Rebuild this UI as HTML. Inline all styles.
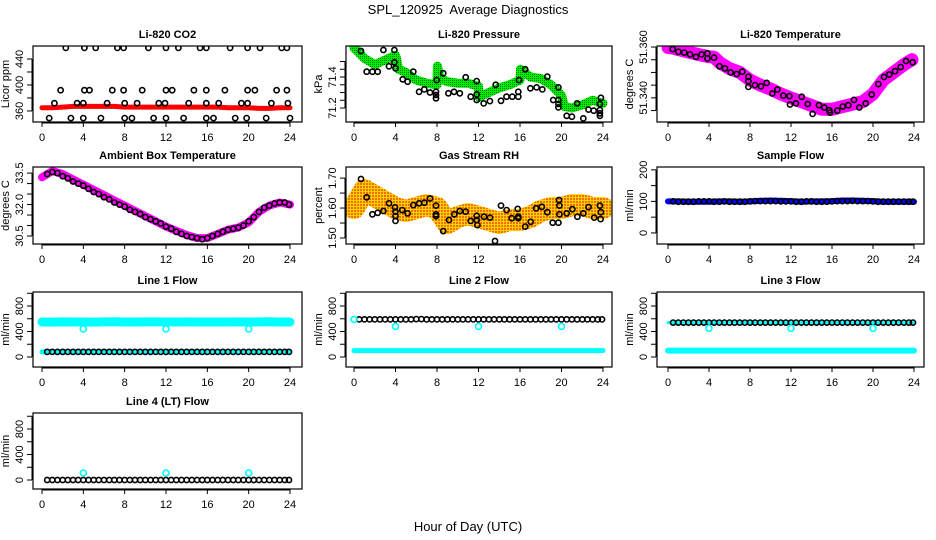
<!DOCTYPE html>
<html><head><meta charset="utf-8"><style>
html,body{margin:0;padding:0;background:#fff}
svg{display:block;font-family:"Liberation Sans",Arial,sans-serif}
</style></head><body>
<svg id="chart" width="936" height="540" viewBox="0 0 936 540" xmlns="http://www.w3.org/2000/svg">
<defs>
<pattern id="orangePat" width="3" height="3" patternUnits="userSpaceOnUse"><rect width="3" height="3" fill="#ffd000"/><rect width="2" height="2" fill="#f07000"/></pattern>
<pattern id="greenPat" width="2" height="2" patternUnits="userSpaceOnUse"><rect width="2" height="2" fill="#00ee00"/><rect width="1" height="1" fill="#007700"/></pattern>
</defs>
<text x="468" y="14" font-size="13" text-anchor="middle" xml:space="preserve" style="white-space:pre">SPL_120925  Average Diagnostics</text>
<text x="468" y="531" font-size="13" text-anchor="middle">Hour of Day (UTC)</text>
</svg>
<script>
// ---------- data ----------
const xTicks=[0,4,8,12,16,20,24];
const halfHours=[0.5,1,1.5,2,2.5,3,3.5,4,4.5,5,5.5,6,6.5,7,7.5,8,8.5,9,9.5,10,10.5,11,11.5,12,12.5,13,13.5,14,14.5,15,15.5,16,16.5,17,17.5,18,18.5,19,19.5,20,20.5,21,21.5,22,22.5,23,23.5,23.9];
const hourly=[0,1,2,3,4,5,6,7,8,9,10,11,12,13,14,15,16,17,18,19,20,21,22,23,24];

const co2Band=[365,365,366,367,367,367,367,367,366,366,366,366,366,366,366,366,366,366,365,365,365,364,364,365,365];
const co2PtHours=[2.3,4.1,5.2,7.3,7.9,10.3,12.0,13.2,15.3,15.9,18.2,19.9,21.1,23.2,23.7,
1.8,4.1,4.6,6.8,7.9,9.7,12.0,12.6,14.7,15.9,17.7,19.9,20.6,22.7,23.7,
1.2,3.4,4.0,6.3,8.0,9.2,11.3,11.9,14.2,15.9,17.1,19.3,19.9,22.2,23.8,
0.7,2.8,4.0,5.7,8.0,8.7,10.8,12.0,13.7,15.9,16.6,18.7,19.8,21.7,24.0];
const co2PtVals=[457,457,457,457,457,457,457,457,457,457,457,457,457,457,457,
392,392,392,392,392,392,392,392,392,392,392,392,392,392,392,
372,372,372,372,372,372,372,372,372,372,372,372,372,372,372,
349,349,349,349,349,349,349,349,349,349,349,349,349,349,349];

const presBandHours=[0,1,2,3,4,4.1,4.3,5,6,7,8,8.05,8.3,9,10,11,12,12.05,13,14,15,16,16.05,17,18,19,20,20.3,21,22,23,24];
const presBandVals=[71.59,71.52,71.48,71.51,71.54,71.52,71.45,71.43,71.38,71.36,71.35,71.47,71.39,71.37,71.36,71.36,71.34,71.27,71.30,71.33,71.35,71.38,71.45,71.40,71.39,71.35,71.28,71.21,71.2,71.22,71.25,71.23];
const presPtHours=[0.67,1.22,1.77,2.28,2.83,3.37,3.89,3.89,4.0,4.69,5.17,5.72,6.27,6.78,7.33,7.9,7.9,7.9,7.97,8.6,9.1,9.64,10.2,10.77,11.25,11.83,11.83,11.83,12.5,13.1,13.66,14.17,14.7,15.26,15.84,15.84,15.9,16.5,17.0,17.6,18.15,18.63,19.2,19.7,19.7,19.7,19.7,20.5,21.0,21.5,22.1,22.6,23.1,23.7,23.7,23.7,23.7,23.8];
const presPtVals=[71.568,71.434,71.434,71.434,71.574,71.469,71.574,71.495,71.456,71.385,71.37,71.434,71.305,71.32,71.30,71.305,71.284,71.263,71.38,71.424,71.295,71.305,71.295,71.398,71.273,71.374,71.288,71.252,71.23,71.245,71.35,71.247,71.273,71.273,71.305,71.273,71.38,71.45,71.327,71.333,71.32,71.402,71.252,71.333,71.252,71.226,71.204,71.15,71.144,71.23,71.133,71.19,71.183,71.187,71.226,71.166,71.15,71.266];

const tempBandHours=[0,0.5,1,2,3,4,4.5,5,6,7,8,9,10,11,12,13,14,15,16,17,18,19,20,21,22,23,23.8];
const tempBandVals=[51.3598,51.3596,51.3590,51.3580,51.3570,51.3562,51.3560,51.3540,51.3515,51.3500,51.3470,51.3450,51.3435,51.3415,51.3400,51.3385,51.3370,51.3355,51.3355,51.3365,51.3375,51.3385,51.3415,51.3470,51.3500,51.3530,51.3550];
const tempPtHours=[0.46,1.01,1.59,2.15,2.73,3.28,3.84,3.84,4.49,5.01,5.56,6.11,6.7,7.25,7.84,7.84,7.84,8.49,9.07,9.63,10.18,10.67,11.25,11.84,11.9,12.49,13.04,13.63,14.11,14.73,15.25,15.74,15.8,16.52,17.04,17.59,18.15,18.66,19.29,19.87,20.52,21.07,21.59,22.15,22.7,23.22,23.87];
const tempPtVals=[51.3592,51.3581,51.3578,51.3571,51.3561,51.3571,51.3575,51.3555,51.3558,51.3524,51.3516,51.3500,51.3494,51.3503,51.3483,51.3466,51.3443,51.3450,51.3446,51.3459,51.3417,51.3433,51.3409,51.3407,51.3374,51.3378,51.3404,51.3376,51.3337,51.3371,51.3362,51.3351,51.3342,51.3350,51.3366,51.3371,51.3392,51.3362,51.3378,51.3413,51.3454,51.3482,51.3492,51.3505,51.3521,51.3545,51.3540];

const ambBand=[33.3,33.6,33.45,33.2,32.95,32.7,32.45,32.2,31.95,31.7,31.45,31.2,30.95,30.75,30.55,30.4,30.4,30.6,30.8,30.9,31.15,31.65,31.95,32.1,32.0];
const ambPts=[33.45,33.55,33.5,33.35,33.25,33.1,33.0,32.9,32.75,32.6,32.5,32.35,32.25,32.1,32.0,31.9,31.75,31.65,31.55,31.4,31.3,31.2,31.1,30.95,30.85,30.7,30.6,30.5,30.45,30.4,30.35,30.4,30.5,30.6,30.7,30.8,30.85,30.9,31.0,31.2,31.4,31.65,31.85,31.95,32.05,32.1,32.1,32.0];

const rhBand=[1.60,1.66,1.64,1.62,1.60,1.59,1.60,1.61,1.60,1.55,1.57,1.58,1.57,1.56,1.55,1.56,1.56,1.57,1.59,1.60,1.60,1.61,1.61,1.60,1.60];
const rhPtHours=[0.67,1.22,1.77,2.28,2.83,3.37,3.95,4.0,4.0,4.0,4.66,5.17,5.72,6.27,6.78,7.33,7.9,7.9,7.9,8.6,9.16,9.67,10.2,10.77,11.25,11.83,11.83,11.89,12.53,13.11,13.59,14.17,14.71,15.2,15.78,15.84,15.84,16.5,17.03,17.55,18.1,18.63,19.15,19.7,19.76,19.8,19.8,20.5,21.05,21.53,22.1,22.6,23.15,23.7,23.77,23.8];
const rhPtVals=[1.697,1.636,1.579,1.584,1.59,1.616,1.602,1.588,1.573,1.557,1.593,1.582,1.61,1.616,1.618,1.632,1.608,1.579,1.573,1.523,1.56,1.579,1.59,1.588,1.557,1.574,1.56,1.543,1.571,1.568,1.49,1.608,1.593,1.566,1.597,1.571,1.566,1.538,1.554,1.599,1.604,1.586,1.551,1.551,1.627,1.608,1.579,1.582,1.596,1.571,1.582,1.603,1.568,1.608,1.563,1.586];

const sampBand=[100,100,99,99,99,100,100,99,100,102,103,102,101,99,100,100,101,103,103,102,101,99,99,99,99];
const sampPts=[100,99,99,99,99,100,100,100,99,99,100,99,99,99,99,100,101,101,101,101,101,100,100,100,99,99,100,100,99,99,99,100,101,101,101,102,101,101,101,100,99,99,99,99,99,99,99,99];

const line1Upper=[549,548,550,549,549,548,550,552,549,549,550,550,549,549,550,549,549,549,549,550,549,551,552,549,549];
const line1Lower=[80,80,80,80,80,80,80,80,80,80,80,80,80,80,80,80,80,80,80,80,80,80,80,80,80];
const line1Pts=[80,80,80,80,80,80,80,80,80,80,80,80,80,80,80,80,80,80,80,80,80,80,80,80,80,80,80,80,80,80,80,80,80,80,80,80,80,80,80,80,80,80,80,80,80,80,80,80];
const line2Lower=[100,100,100,100,100,100,100,100,100,100,100,100,100,100,100,100,100,100,100,100,100,100,100,100,100];
const line2Pts=[590,590,590,590,590,590,590,590,590,590,590,595,595,590,590,590,590,590,590,590,590,590,590,590,590,590,590,590,590,590,590,590,590,590,590,590,590,590,590,590,590,590,590,590,590,590,590,590];
const line3Lower=[100,100,100,100,100,100,100,100,100,100,100,100,100,100,100,100,100,100,100,100,100,100,100,100,100];
const line3Upper=[540,540,540,540,540,540,545,545,540,540,540,540,540,540,540,540,540,540,540,540,540,540,545,540,540];
const line3Pts=[540,540,540,540,540,540,540,540,540,540,540,540,540,540,540,540,540,540,540,540,540,540,540,540,540,540,540,540,540,540,540,540,540,540,540,540,540,540,540,540,540,540,540,540,540,540,540,540];
const line4Pts=[0,0,0,0,0,0,0,0,0,0,0,0,0,0,0,0,0,0,0,0,0,0,0,0,0,0,0,0,0,0,0,0,0,0,0,0,0,0,0,0,0,0,0,0,0,0,0,0];
const dipHours=[4,12,20];
const line1Dips=[440,440,440];
const line2CyanHours=[0,4,12,20];
const line2Dips=[590,480,480,480];
const line3Dips=[450,450,450];
const line4Dips=[110,110,110];

// ---------- layout ----------
const NS="http://www.w3.org/2000/svg";
const svg=document.getElementById('chart');
const cols=[{bx0:33,bx1:302,x0:42,x24:290},{bx0:346,bx1:612,x0:354,x24:603},{bx0:657,bx1:924,x0:668,x24:914}];
const rows=[{by0:46,by1:122},{by0:167,by1:244},{by0:292,by1:367},{by0:413,by1:489}];

function mk(tag,attrs,parent){const e=document.createElementNS(NS,tag);for(const k in attrs)e.setAttribute(k,attrs[k]);parent.appendChild(e);return e;}

function panel(ci,ri,name,title,ylab,dom,yticks,ylabels,dec){
  const c=cols[ci],r=rows[ri];
  const g=mk('g',{},svg);
  
  
  const xs=h=>c.x0+(c.x24-c.x0)*h/24;
  const ys=v=>r.by1-(v-dom[0])/(dom[1]-dom[0])*(r.by1-r.by0);
  const t=mk('text',{x:(c.bx0+c.bx1)/2,y:r.by0-8,'font-size':11,'font-weight':'bold','text-anchor':'middle'},g);
  t.textContent=title;
  
  
  const xa=mk('g',{stroke:'#000','stroke-width':1},g);
  
  
  mk('line',{x1:xs(0),x2:xs(24),y1:r.by1+1,y2:r.by1+1},xa);
  xTicks.forEach(h=>{
    mk('line',{x1:xs(h),x2:xs(h),y1:r.by1,y2:r.by1+5},xa);
    const tl=mk('text',{x:xs(h),y:r.by1+19,'font-size':11,'text-anchor':'middle',stroke:'none'},xa);
    tl.textContent=h;
    
    
  });
  const ya=mk('g',{stroke:'#000','stroke-width':1},g);
  
  
  mk('line',{x1:c.bx0-1,x2:c.bx0-1,y1:ys(yticks[0]),y2:ys(yticks[yticks.length-1])},ya);
  yticks.forEach(v=>{mk('line',{x1:c.bx0-6,x2:c.bx0-1,y1:ys(v),y2:ys(v)},ya);});
  ylabels.forEach(v=>{
    const yy=ys(v);
    const tl=mk('text',{x:c.bx0-10,y:yy,'font-size':11,'text-anchor':'middle',stroke:'none',transform:`rotate(-90 ${c.bx0-10} ${yy})`},ya);
    tl.textContent=v.toFixed(dec||0);
    
    
  });
  const my=(r.by0+r.by1)/2;
  const yl=mk('text',{x:c.bx0-24,y:my,'font-size':11,'text-anchor':'middle',transform:`rotate(-90 ${c.bx0-24} ${my})`},g);
  yl.textContent=ylab;
  
  
  const cp='clip-'+name;
  const cl=mk('clipPath',{id:cp},g);
  mk('rect',{x:c.bx0,y:r.by0,width:c.bx1-c.bx0,height:r.by1-r.by0},cl);
  const pg=mk('g',{'clip-path':`url(#${cp})`},g);
  
  
  const box=mk('rect',{x:c.bx0,y:r.by0,width:c.bx1-c.bx0,height:r.by1-r.by0,fill:'none',stroke:'#000','stroke-width':1.2},g);
  
  
  return {xs,ys,pg};
}
function band(P,hours,vals,color,width,nm){
  const pts=hours.map((h,i)=>P.xs(h).toFixed(1)+','+P.ys(vals[i]).toFixed(1)).join(' ');
  const pl=mk('polyline',{points:pts,fill:'none',stroke:color,'stroke-width':width,'stroke-linejoin':'round','stroke-linecap':'round'},P.pg);
  
  
}
function points(P,hours,vals,color,nm,r){
  const g=mk('g',{fill:'none',stroke:color,'stroke-width':1.6},P.pg);
  
  
  hours.forEach((h,i)=>{
    const ci=mk('circle',{cx:P.xs(h).toFixed(1),cy:P.ys(vals[i]).toFixed(1),r:r||2.6},g);
    
    
  });
}

let P=panel(0,0,'co2','Li-820 CO2','Licor ppm',[343,460],[360,380,400,420,440],[360,400,440],0);
band(P,hourly,co2Band,'#ff0000',5,'co2-series');
points(P,co2PtHours,co2PtVals,'#000','co2-averages');
P=panel(1,0,'pressure','Li-820 Pressure','kPa',[71.11,71.6],[71.2,71.25,71.3,71.35,71.4,71.45,71.5],[71.2,71.4],1);
band(P,presBandHours,presBandVals,'url(#greenPat)',9,'pressure-series');
points(P,presPtHours,presPtVals,'#000','pressure-averages');
P=panel(2,0,'li820-temp','Li-820 Temperature','degrees C',[51.3305,51.3604],[51.335,51.34,51.345,51.35,51.355,51.36],[51.34,51.36],3);
band(P,tempBandHours,tempBandVals,'#ff00ff',13,'li820-temp-series');
points(P,tempPtHours,tempPtVals,'#000','li820-temp-averages');
P=panel(0,1,'ambient-temp','Ambient Box Temperature','degrees C',[30.12,33.79],[30.5,31,31.5,32,32.5,33,33.5],[30.5,32.0,33.5],1);
band(P,hourly,ambBand,'#ff00ff',8,'ambient-series');
points(P,halfHours,ambPts,'#000','ambient-averages');
P=panel(1,1,'rh','Gas Stream RH','percent',[1.48,1.737],[1.5,1.55,1.6,1.65,1.7],[1.50,1.60,1.70],2);
band(P,hourly,rhBand,'url(#orangePat)',22,'rh-series');
points(P,rhPtHours,rhPtVals,'#000','rh-averages');
P=panel(2,1,'sample-flow','Sample Flow','ml/min',[-35,209],[0,50,100,150,200],[0,100,200],0);
band(P,hourly,sampBand,'#0000ff',6,'sample-flow-series');
points(P,halfHours,sampPts,'#000','sample-flow-averages');
P=panel(0,2,'line1-flow','Line 1 Flow','ml/min',[-157,1020],[0,200,400,600,800,1000],[0,400,800],0);
band(P,hourly,line1Upper,'#00ffff',9,'line1-upper-series');
band(P,hourly,line1Lower,'#00ffff',5,'line1-lower-series');
points(P,halfHours,line1Pts,'#000','line1-averages');
points(P,dipHours,line1Dips,'#00ffff','line1-dips',3);
P=panel(1,2,'line2-flow','Line 2 Flow','ml/min',[-157,1020],[0,200,400,600,800,1000],[0,400,800],0);
band(P,hourly,line2Lower,'#00ffff',5,'line2-lower-series');
points(P,halfHours,line2Pts,'#000','line2-averages');
points(P,line2CyanHours,line2Dips,'#00ffff','line2-dips',3);
P=panel(2,2,'line3-flow','Line 3 Flow','ml/min',[-157,1020],[0,200,400,600,800,1000],[0,400,800],0);
band(P,hourly,line3Lower,'#00ffff',6,'line3-lower-series');
band(P,hourly,line3Upper,'#00ffff',3,'line3-upper-series');
points(P,halfHours,line3Pts,'#000','line3-averages');
points(P,dipHours,line3Dips,'#00ffff','line3-dips',3);
P=panel(0,3,'line4-flow','Line 4 (LT) Flow','ml/min',[-141,1051],[0,200,400,600,800,1000],[0,400,800],0);
points(P,halfHours,line4Pts,'#000','line4-averages');
points(P,dipHours,line4Dips,'#00ffff','line4-dips',3);
</script>
</body></html>
